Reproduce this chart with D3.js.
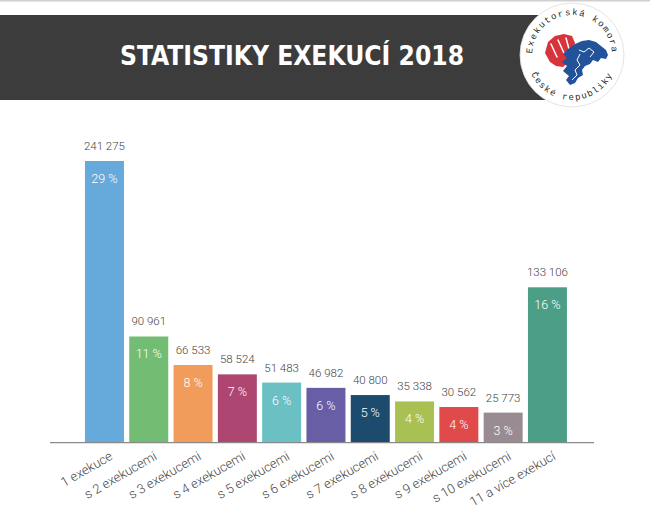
<!DOCTYPE html>
<html>
<head>
<meta charset="utf-8">
<script src="https://cdn.jsdelivr.net/npm/d3@7"></script>
<style>
  body { margin: 0; background: #fff; }
  svg { display: block; }
</style>
</head>
<body>
<div id="graf"></div>
<script>
// data
const kategorie = ["1 exekuce", "s 2 exekucemi", "s 3 exekucemi", "s 4 exekucemi", "s 5 exekucemi",
  "s 6 exekucemi", "s 7 exekucemi", "s 8 exekucemi", "s 9 exekucemi", "s 10 exekucemi", "11 a více exekucí"];
const pocty = [241275, 90961, 66533, 58524, 51483, 46982, 40800, 35338, 30562, 25773, 133106];
const procenta = [29, 11, 8, 7, 6, 6, 5, 4, 4, 3, 16];
const barvy = ["#66a9db", "#72bc73", "#f29c5b", "#ad4670", "#6bc0c4", "#675ea6", "#1d4b6e",
  "#a9c153", "#e14a4b", "#9a8b93", "#4c9e86"];
const titulek = "STATISTIKY EXEKUCÍ 2018";

const width = 650, height = 517;
const baseY = 442.7, topY = 161;
const svg = d3.select("#graf").append("svg")
  .attr("width", width).attr("height", height);

// hlavicka
svg.append("rect").attr("x", 0).attr("y", 0).attr("width", width).attr("height", 1.5).attr("fill", "#cfcfcf");
svg.append("rect").attr("x", 0).attr("y", 15).attr("width", 575).attr("height", 85).attr("fill", "#3c3c3c");

svg.append("text")
  .attr("x", 292).attr("y", 65)
  .attr("text-anchor", "middle")
  .attr("fill", "#fff")
  .style("font-family", "'Liberation Sans Narrow', 'DejaVu Sans Condensed', 'Liberation Sans', sans-serif")
  .style("font-weight", "bold")
  .style("font-size", "26px")
  .attr("textLength", 344).attr("lengthAdjust", "spacingAndGlyphs")
  .text(titulek);

// logo
const cx = 572, cy = 55;
const logo = svg.append("g").attr("transform", `translate(${cx},${cy})`);
logo.append("circle").attr("r", 52).attr("fill", "#fff").attr("stroke", "#ddd").attr("stroke-width", 0.8);

// ruka (cervena)
logo.append("path").attr("fill", "#d8333b")
  .attr("d", "M-27,-2 L-24,-13 L-17,-19 L-8,-21 L0,-19 L3,-12 L1,-2 L-3,7 L-9,12 L-16,11 L-22,7 Z");
logo.append("g").attr("stroke", "#fff").attr("stroke-width", 1.5).attr("stroke-linecap", "round")
  .selectAll("line")
  .data([[-21, -11, -15, 2], [-14, -15, -8, -2], [-6, -17, -3, -6]])
  .enter().append("line")
  .attr("x1", d => d[0]).attr("y1", d => d[1]).attr("x2", d => d[2]).attr("y2", d => d[3]);

// mapa (modra)
logo.append("path").attr("fill", "#22529a")
  .attr("d", "M-4,-6 L3,-11 L10,-14 L17,-15 L24,-13 L29,-9 L34,-5 L36,0 L34,4 L29,3 L26,7 L21,5 L18,9 L13,11 L10,15 L11,20 L6,23 L3,28 L-2,30 L-6,25 L-3,21 L-9,16 L-5,11 L-10,7 L-5,3 L-9,-1 Z");
logo.append("path").attr("fill", "none").attr("stroke", "#fff").attr("stroke-width", 1)
  .attr("d", "M7,-5 L12,-3 L17,-7 L22,-3 L18,2 M8,-1 L5,5 L8,10 L3,15 L5,20 L0,25");

const defs = svg.append("defs");
const rh = 40, rd = 45;
const a1 = 0.35;
defs.append("path").attr("id", "obloukHorni")
  .attr("d", `M ${cx - rh*Math.cos(a1)} ${cy + rh*Math.sin(a1)} A ${rh} ${rh} 0 1 1 ${cx + rh*Math.cos(a1)} ${cy + rh*Math.sin(a1)}`);
const b1 = 0.25;
defs.append("path").attr("id", "obloukDolni")
  .attr("d", `M ${cx - rd*Math.cos(b1)} ${cy + rd*Math.sin(b1)} A ${rd} ${rd} 0 0 0 ${cx + rd*Math.cos(b1)} ${cy + rd*Math.sin(b1)}`);
const logoFont = "'Liberation Mono', 'DejaVu Sans Mono', monospace";
svg.append("text").attr("fill", "#2a2a2a").style("font-family", logoFont).style("font-size", "9px")
  .style("letter-spacing", "1.4px")
  .append("textPath").attr("href", "#obloukHorni").attr("startOffset", "50%").attr("text-anchor", "middle")
  .text("Exekutorská komora");
svg.append("text").attr("fill", "#2a2a2a").style("font-family", logoFont).style("font-size", "9px")
  .style("letter-spacing", "1.4px")
  .append("textPath").attr("href", "#obloukDolni").attr("startOffset", "50%").attr("text-anchor", "middle")
  .text("České republiky");

// skaly
const x = d3.scaleBand()
  .domain(kategorie)
  .range([82.3, 569.6])
  .paddingInner(0.12)
  .paddingOuter(0.06);

const y = d3.scaleLinear()
  .domain([0, d3.max(pocty)])
  .range([baseY, topY]);

const data = kategorie.map((k, i) => ({ k, v: pocty[i], p: procenta[i], c: barvy[i] }));

svg.selectAll(".bar")
  .data(data)
  .enter().append("rect")
  .attr("class", "bar")
  .attr("x", d => x(d.k))
  .attr("y", d => y(d.v))
  .attr("width", x.bandwidth())
  .attr("height", d => baseY - y(d.v))
  .attr("fill", d => d.c);

const labelFont = "Roboto, 'Liberation Sans', sans-serif";

svg.selectAll(".hodnota")
  .data(data)
  .enter().append("text")
  .attr("x", d => x(d.k) + x.bandwidth() / 2)
  .attr("y", d => y(d.v) - 11)
  .attr("text-anchor", "middle")
  .attr("fill", "#444")
  .style("font-family", labelFont)
  .style("font-weight", 300)
  .style("font-size", "11.5px")
  .text(d => d3.format(",")(d.v).replace(/,/g, " "));

svg.selectAll(".proc")
  .data(data)
  .enter().append("text")
  .attr("x", d => x(d.k) + x.bandwidth() / 2)
  .attr("y", d => y(d.v) + 22)
  .attr("text-anchor", "middle")
  .attr("fill", "#fff")
  .style("font-family", labelFont)
  .style("font-weight", 300)
  .style("font-size", "12.5px")
  .text(d => d.p + " %");

// osa x
svg.append("g")
  .attr("transform", `translate(0,${baseY})`)
  .call(d3.axisBottom(x).tickSize(0).tickPadding(0))
  .call(g => g.select(".domain").remove())
  .selectAll("text")
  .attr("text-anchor", "end")
  .attr("dy", 0)
  .attr("transform", "translate(9,16) rotate(-30)")
  .attr("fill", "#444")
  .style("font-family", labelFont)
  .style("font-weight", 300)
  .style("font-size", "13px");

svg.append("line")
  .attr("x1", 50).attr("x2", 594)
  .attr("y1", baseY).attr("y2", baseY)
  .attr("stroke", "#8a8a8a").attr("stroke-width", 1.2);
</script>
</body>
</html>
